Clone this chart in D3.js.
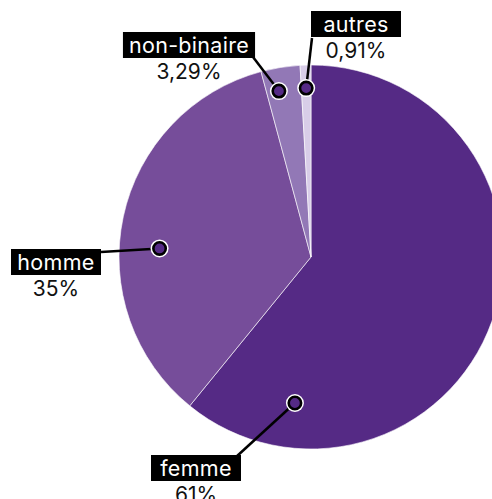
<!DOCTYPE html>
<html>
<head>
<meta charset="utf-8">
<script src="https://cdn.jsdelivr.net/npm/d3@7"></script>
<style>
  body { margin: 0; background: #fff; overflow: hidden; }
  text { font-family: Inter, "Noto Sans", sans-serif; }
</style>
</head>
<body>
<div class="pie-wrapper"></div>
<script>
const categories = ["femme", "homme", "non-binaire", "autres"]
const values = [61, 35, 3.29, 0.91]
const valueLabels = ["61%", "35%", "3,29%", "0,91%"]
const colors = ["#552a85", "#764d9a", "#9278b6", "#d8cde8"]

// where the dot sits inside each slice (fraction of the slice angle, fraction of radius)
const dotAt = [[0.85, 0.765], [0.43, 0.79], [0.35, 0.88], [0.5, 0.88]]
// label anchor (centre of the black box) and where the leader line leaves it
const labelAt = [[196, 468], [56, 262], [189, 45], [356, 24]]
const lineFrom = [[236, 457], [101, 252], [253, 57], [312, 38]]

const width = 492, height = 499
const cx = 311, cy = 257, radius = 192

const svg = d3.select('.pie-wrapper')
  .append('svg')
  .attr('width', width)
  .attr('height', height)

const g = svg.append('g').attr('transform', 'translate(' + cx + ',' + cy + ')')

const pie = d3.pie().sort(null).value(d => d)
const arcs = pie(values)
const arc = d3.arc().innerRadius(0).outerRadius(radius)

g.selectAll('path')
  .data(arcs)
  .enter()
  .append('path')
  .attr('d', arc)
  .attr('fill', (d, i) => colors[i])
  .attr('stroke', '#fff')
  .attr('stroke-width', 0.6)

const dots = arcs.map((d, i) => {
  const a = d.startAngle + (d.endAngle - d.startAngle) * dotAt[i][0]
  const r = radius * dotAt[i][1]
  return [cx + r * Math.sin(a), cy - r * Math.cos(a)]
})

// leader lines
svg.append('g')
  .selectAll('line')
  .data(dots)
  .enter()
  .append('line')
  .attr('x1', (d, i) => lineFrom[i][0])
  .attr('y1', (d, i) => lineFrom[i][1])
  .attr('x2', d => d[0])
  .attr('y2', d => d[1])
  .attr('stroke', '#000')
  .attr('stroke-width', 2.5)

// dots
const dotG = svg.append('g')
dotG.selectAll('circle.outer')
  .data(dots)
  .enter()
  .append('circle')
  .attr('cx', d => d[0])
  .attr('cy', d => d[1])
  .attr('r', 9)
  .attr('fill', '#fff')
dotG.selectAll('circle.inner')
  .data(dots)
  .enter()
  .append('circle')
  .attr('cx', d => d[0])
  .attr('cy', d => d[1])
  .attr('r', 6.2)
  .attr('fill', (d, i) => colors[0])
  .attr('stroke', '#000')
  .attr('stroke-width', 2.6)

// labels
const labels = svg.append('g')
categories.forEach((c, i) => {
  const lg = labels.append('g').attr('transform', 'translate(' + labelAt[i][0] + ',' + labelAt[i][1] + ')')
  const bg = lg.append('rect').attr('fill', '#000')
  const t = lg.append('text')
    .attr('text-anchor', 'middle')
    .attr('dy', '0.36em')
    .attr('fill', '#fff')
    .style('font-size', '21.5px')
    .style('letter-spacing', '0.3px')
    .text(c)
  const bb = t.node().getBBox()
  const w = Math.max(bb.width + 12, 90)
  bg.attr('x', -w / 2).attr('y', -13).attr('width', w).attr('height', 26)
  lg.append('text')
    .attr('text-anchor', 'middle')
    .attr('y', 34)
    .attr('fill', '#111')
    .style('font-size', '21px')
    .text(valueLabels[i])
})
</script>
</body>
</html>
